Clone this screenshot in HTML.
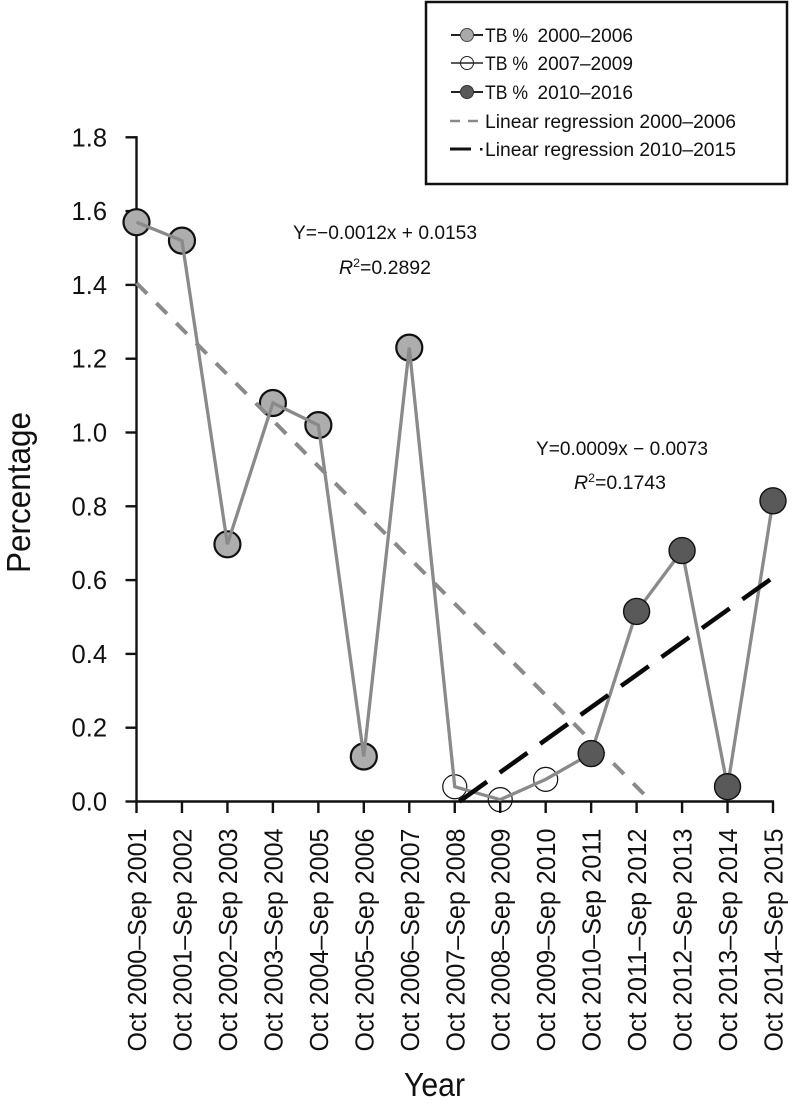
<!DOCTYPE html>
<html lang="en">
<head>
<meta charset="utf-8">
<title>TB percentage by year</title>
<style>
html,body{margin:0;padding:0;background:#fff;width:794px;height:1105px;overflow:hidden}
svg{display:block}
text{font-family:"Liberation Sans",sans-serif;fill:#111111}
</style>
</head>
<body>
<svg id="chart" xmlns="http://www.w3.org/2000/svg" width="794" height="1105" viewBox="0 0 794 1105">
  <rect x="0" y="0" width="794" height="1105" fill="#ffffff"/>
  <g id="axes"></g>
  <g id="marks"></g>

  <text transform="translate(30,573) rotate(-90)" font-size="33" textLength="161" lengthAdjust="spacingAndGlyphs">Percentage</text>
  <text x="404" y="1096" font-size="33" textLength="61" lengthAdjust="spacingAndGlyphs">Year</text>

  <text x="293" y="239" font-size="19" textLength="184" lengthAdjust="spacingAndGlyphs">Y=−0.0012x + 0.0153</text>
  <text x="339" y="274" font-size="19" textLength="92" lengthAdjust="spacingAndGlyphs"><tspan font-style="italic">R</tspan><tspan font-size="12" dy="-7">2</tspan><tspan dy="7">=0.2892</tspan></text>
  <text x="536" y="455" font-size="19" textLength="172" lengthAdjust="spacingAndGlyphs">Y=0.0009x − 0.0073</text>
  <text x="574" y="489" font-size="19" textLength="92" lengthAdjust="spacingAndGlyphs"><tspan font-style="italic">R</tspan><tspan font-size="12" dy="-7">2</tspan><tspan dy="7">=0.1743</tspan></text>

  <g>
    <rect x="426" y="2" width="361" height="182" fill="#ffffff" stroke="#111111" stroke-width="2.5"/>
    <g>
      <line x1="451" y1="35" x2="483" y2="35" stroke="#222" stroke-width="2"/>
      <circle cx="467" cy="35" r="6.5" fill="#aaaaaa" stroke="#444" stroke-width="1"/>
      <text y="42" font-size="19.5"><tspan x="485" textLength="43" lengthAdjust="spacingAndGlyphs">TB %</tspan><tspan x="537.5" textLength="95.5" lengthAdjust="spacingAndGlyphs">2000–2006</tspan></text>
    </g>
    <g>
      <line x1="451" y1="63" x2="483" y2="63" stroke="#222" stroke-width="1.5"/>
      <circle cx="467" cy="63" r="6.5" fill="none" stroke="#222" stroke-width="1"/>
      <text y="70" font-size="19.5"><tspan x="485" textLength="43" lengthAdjust="spacingAndGlyphs">TB %</tspan><tspan x="537.5" textLength="95.5" lengthAdjust="spacingAndGlyphs">2007–2009</tspan></text>
    </g>
    <g>
      <line x1="451" y1="92" x2="483" y2="92" stroke="#222" stroke-width="2"/>
      <circle cx="467" cy="92" r="6.5" fill="#595959" stroke="#333" stroke-width="1"/>
      <text y="99" font-size="19.5"><tspan x="485" textLength="43" lengthAdjust="spacingAndGlyphs">TB %</tspan><tspan x="537.5" textLength="95.5" lengthAdjust="spacingAndGlyphs">2010–2016</tspan></text>
    </g>
    <g>
      <line x1="450" y1="121" x2="478" y2="121" stroke="#8a8a8a" stroke-width="2.5" stroke-dasharray="10 8"/>
      <text x="485" y="128" font-size="19.5" textLength="251" lengthAdjust="spacingAndGlyphs">Linear regression 2000–2006</text>
    </g>
    <g>
      <line x1="450" y1="149" x2="471" y2="149" stroke="#111" stroke-width="3"/>
      <rect x="480" y="148" width="2.5" height="2.5" fill="#111"/>
      <text x="485" y="156" font-size="19.5" textLength="251" lengthAdjust="spacingAndGlyphs">Linear regression 2010–2015</text>
    </g>
  </g>
</svg>
<script>
const categories = ["Oct 2000–Sep 2001","Oct 2001–Sep 2002","Oct 2002–Sep 2003","Oct 2003–Sep 2004","Oct 2004–Sep 2005","Oct 2005–Sep 2006","Oct 2006–Sep 2007","Oct 2007–Sep 2008","Oct 2008–Sep 2009","Oct 2009–Sep 2010","Oct 2010–Sep 2011","Oct 2011–Sep 2012","Oct 2012–Sep 2013","Oct 2013–Sep 2014","Oct 2014–Sep 2015"];
const tbPercent = [1.57,1.52,0.697,1.08,1.02,0.122,1.23,0.04,0.005,0.06,0.13,0.515,0.68,0.04,0.815];
const periodOf = ["early","early","early","early","early","early","early","middle","middle","middle","late","late","late","late","late"];
const yTicks = [0,0.2,0.4,0.6,0.8,1.0,1.2,1.4,1.6,1.8];
const regressionEarlyIndex = [0,11.2];
const regressionEarlyValue = [1.405,0.015];
const regressionLateIndex = [7.1,14];
const regressionLateValue = [0,0.607];

const NS = 'http://www.w3.org/2000/svg';
const axesGroup = document.getElementById('axes');
const marksGroup = document.getElementById('marks');
function xScale(i){ return 136.5 + i * (773 - 136.5) / 14; }
function yScale(v){ return 801.5 - v * (801.5 - 137.3) / 1.8; }
function make(tag, attrs, parent){
  const el = document.createElementNS(NS, tag);
  for (const k in attrs) el.setAttribute(k, attrs[k]);
  parent.appendChild(el);
  return el;
}

const yAxis = make('line', {x1:xScale(0), y1:yScale(1.8)-1.2, x2:xScale(0), y2:yScale(0)+1, stroke:'#111', 'stroke-width':2.4}, axesGroup);


const xAxis = make('line', {x1:xScale(0)-1, y1:yScale(0), x2:xScale(14)+1, y2:yScale(0), stroke:'#111', 'stroke-width':2.4}, axesGroup);



yTicks.forEach(function(t){
  const tick = make('line', {x1:xScale(0)-11, y1:yScale(t), x2:xScale(0), y2:yScale(t), stroke:'#111', 'stroke-width':2.4}, axesGroup);
  
  
  const label = make('text', {x:107, y:yScale(t)+9, 'text-anchor':'end', 'font-size':25.5}, axesGroup);
  
  
  label.textContent = t.toFixed(1);
});

categories.forEach(function(c, i){
  const x = xScale(i);
  const tick = make('line', {x1:x, y1:yScale(0), x2:x, y2:813, stroke:'#111', 'stroke-width':2.4}, axesGroup);
  
  
  const label = make('text', {transform:'translate(' + (x+9.5) + ',1051.5) rotate(-90)', 'font-size':25.5, textLength:223, lengthAdjust:'spacingAndGlyphs'}, axesGroup);
  
  
  label.textContent = c;
});

function drawPoint(i){
  const p = periodOf[i];
  const fill = p === 'early' ? '#adadad' : p === 'late' ? '#595959' : 'none';
  const r = p === 'middle' ? 12 : 13;
  const width = p === 'middle' ? 1.2 : (p === 'early' ? 2.2 : 1.4);
  const pt = make('circle', {cx:xScale(i), cy:yScale(tbPercent[i]), r:r, fill:fill, stroke:'#111', 'stroke-width':width}, marksGroup);
  
  
}

tbPercent.forEach(function(v, i){ if (periodOf[i] !== 'late') drawPoint(i); });

const regEarly = make('line', {x1:xScale(regressionEarlyIndex[0]), y1:yScale(regressionEarlyValue[0]), x2:xScale(regressionEarlyIndex[1]), y2:yScale(regressionEarlyValue[1]), stroke:'#8a8a8a', 'stroke-width':4, 'stroke-dasharray':'15 13.2'}, marksGroup);



const tbLine = make('polyline', {points:tbPercent.map(function(v, i){ return xScale(i) + ',' + yScale(v); }).join(' '), fill:'none', stroke:'#8a8a8a', 'stroke-width':3.3, 'stroke-linejoin':'miter'}, marksGroup);



tbPercent.forEach(function(v, i){ if (periodOf[i] === 'late') drawPoint(i); });

const regLate = make('line', {x1:xScale(regressionLateIndex[0]), y1:yScale(regressionLateValue[0]), x2:xScale(regressionLateIndex[1]), y2:yScale(regressionLateValue[1]), stroke:'#0a0a0a', 'stroke-width':4.5, 'stroke-dasharray':'34 15.7'}, marksGroup);


</script>
</body>
</html>
